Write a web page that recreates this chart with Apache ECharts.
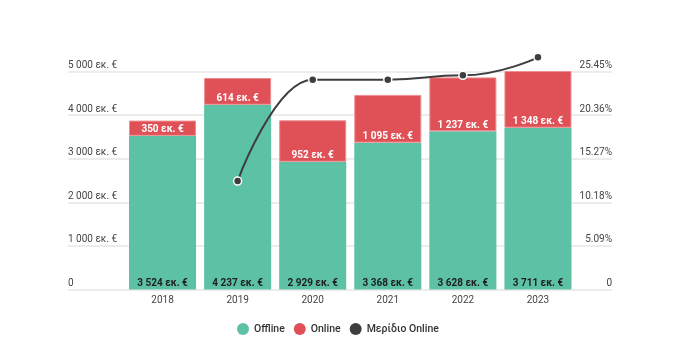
<!DOCTYPE html>
<html>
<head>
<meta charset="utf-8">
<script src="https://cdn.jsdelivr.net/npm/echarts@6/dist/echarts.min.js"></script>
<style>
html,body{margin:0;padding:0;background:#fff;}
#chart{width:700px;height:360px;}
</style>
</head>
<body>
<div id="chart"></div>
<script>
var years = ['2018', '2019', '2020', '2021', '2022', '2023'];
var offline = [3524, 4237, 2929, 3368, 3628, 3711];
var online = [350, 614, 952, 1095, 1237, 1348];
var shareOnline = [null, 12.66, 24.5, 24.5, 25.0, 27.1];
var leftMax = 5000, leftStep = 1000;
var rightMax = 25.45, rightStep = 5.09;

function fmtNum(v) {
  return String(Math.round(v)).replace(/\B(?=(\d{3})+(?!\d))/g, ' ');
}
function fmtEur(v) { return v === 0 ? '0' : fmtNum(v) + ' εκ. €'; }
function fmtPct(v) { return Math.abs(v) < 1e-9 ? '0' : v.toFixed(2) + '%'; }

var FONT = 'Roboto';
var chart = echarts.init(document.getElementById('chart'), null, {renderer: 'canvas'});
var gTop = 71.5, gBottom = 70.5;
var option = {
  animation: false,
  textStyle: {fontFamily: FONT},
  grid: [
    {left: 68, right: 88, top: gTop, bottom: gBottom},
    {left: 125, right: 124.5, top: gTop, bottom: gBottom}
  ],
  legend: {
    left: 232, top: 318, padding: 5,
    icon: 'circle', itemWidth: 12, itemHeight: 12, itemGap: 9, itemTextGap: 7,
    itemStyle: {borderWidth: 0},
    textStyle: {fontFamily: FONT, fontSize: 10.5, color: '#333', fontWeight: 500},
    data: ['Offline', 'Online', 'Μερίδιο Online']
  },
  xAxis: [
    {type: 'category', gridIndex: 0, data: years, show: false},
    {type: 'category', gridIndex: 1, data: years,
     axisLine: {show: false}, axisTick: {show: false},
     axisLabel: {fontFamily: FONT, fontSize: 10, color: '#444', margin: 6}}
  ],
  yAxis: [
    {type: 'value', gridIndex: 0, min: 0, max: leftMax, interval: leftStep, position: 'left',
     axisLine: {show: false}, axisTick: {show: false},
     splitLine: {lineStyle: {color: '#e6e6e6', width: 1.5}},
     axisLabel: {inside: true, margin: 0, verticalAlign: 'bottom', padding: [0, 0, 1, 0],
       fontFamily: FONT, fontSize: 10, color: '#444', formatter: fmtEur}},
    {type: 'value', gridIndex: 0, min: 0, max: rightMax, interval: rightStep, position: 'right',
     axisLine: {show: false}, axisTick: {show: false}, splitLine: {show: false},
     axisLabel: {inside: true, margin: 0, verticalAlign: 'bottom', padding: [0, 0, 1, 0],
       fontFamily: FONT, fontSize: 10, color: '#444', formatter: fmtPct}},
    {type: 'value', gridIndex: 1, min: 0, max: leftMax, interval: leftStep, show: false, splitLine: {show: false}},
    {type: 'value', gridIndex: 1, min: 0, max: rightMax, interval: rightStep, show: false, splitLine: {show: false}}
  ],
  series: [
    {name: 'Offline', type: 'bar', xAxisIndex: 1, yAxisIndex: 2, stack: 'tot',
     data: offline, barCategoryGap: '10.7%',
     itemStyle: {color: '#5dc2a5'},
     label: {show: true, position: 'insideBottom', distance: 1, fontFamily: FONT, fontSize: 10,
       fontWeight: 'bold', color: '#1e1e1e', formatter: function (p) { return fmtEur(p.value); }}},
    {name: 'Online', type: 'bar', xAxisIndex: 1, yAxisIndex: 2, stack: 'tot',
     data: online, barCategoryGap: '10.7%',
     itemStyle: {color: '#df5157', borderColor: '#ec8f92', borderWidth: 1},
     label: {show: true, position: 'insideBottom', distance: 1, fontFamily: FONT, fontSize: 10,
       fontWeight: 'bold', color: '#fff', formatter: function (p) { return fmtEur(p.value); }}},
    {name: 'Μερίδιο Online', type: 'line', xAxisIndex: 1, yAxisIndex: 3,
     data: shareOnline, smooth: true, smoothMonotone: 'x', clip: false, connectNulls: false,
     symbol: 'circle', symbolSize: 8, z: 5,
     lineStyle: {color: '#3d3d3d', width: 2},
     itemStyle: {color: '#3d3d3d', borderColor: '#fff', borderWidth: 1.5}}
  ]
};
chart.setOption(option);
</script>
</body>
</html>
